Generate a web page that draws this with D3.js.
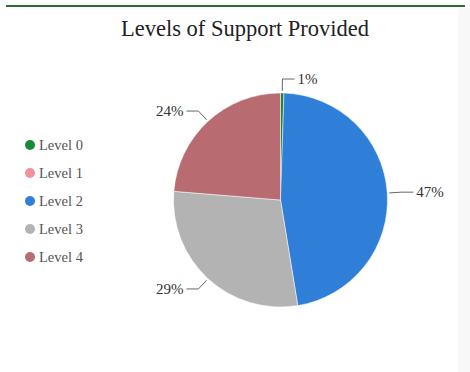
<!DOCTYPE html>
<html>
<head>
<meta charset="utf-8">
<title>Levels of Support Provided</title>
<script src="https://cdn.jsdelivr.net/npm/d3@7"></script>
<style>
  body { margin: 0; background: #fff; }
</style>
</head>
<body>
<svg id="svg"></svg>
<script>
var WIDTH = 470;
var HEIGHT = 372;

// data
var levels = ["Level 0", "Level 1", "Level 2", "Level 3", "Level 4"];
var counts = [1, 0, 91, 56, 46];
var colors = ["#1a8a36", "#f0929e", "#2f7fd8", "#b3b3b3", "#b86b70"];

var data = levels.map(function(l, i){
    return {level: l, value: counts[i], color: colors[i]};
});
var total = d3.sum(counts);

var svg = d3.select("#svg")
            .attr("width", WIDTH)
            .attr("height", HEIGHT);

// faint strip at right edge and green rule at top
svg.append("rect")
   .attr("x", 458).attr("y", 8).attr("width", 12).attr("height", HEIGHT - 8)
   .attr("fill", "#f8f8f8");
svg.append("rect")
   .attr("x", 6).attr("y", 5).attr("width", 459).attr("height", 2)
   .attr("fill", "#2f6b3b");

svg.append("text")
   .attr("x", 245).attr("y", 36)
   .attr("text-anchor", "middle")
   .attr("font-family", "Liberation Serif, serif")
   .attr("font-size", "22.5px")
   .attr("fill", "#222")
   .text("Levels of Support Provided");

var cx = 280.5, cy = 200, r = 107;

var pie = d3.pie()
            .sort(null)
            .value(function(d){ return d.value; });
var arcs = pie(data);
var arc = d3.arc().innerRadius(0).outerRadius(r);

var g = svg.append("g").attr("transform", "translate(" + cx + "," + cy + ")");

g.selectAll("path")
 .data(arcs.filter(function(d){ return d.value > 0; }))
 .enter()
 .append("path")
 .attr("d", arc)
 .attr("fill", function(d){ return d.data.color; })
 .attr("stroke", "#fff")
 .attr("stroke-width", 0.5);

// leader lines and labels
var labelled = arcs.filter(function(d){ return d.value > 0; });
labelled.forEach(function(d){
    var a = (d.startAngle + d.endAngle) / 2;
    var sx = Math.sin(a), sy = -Math.cos(a);
    var p0 = [sx * (r + 2), sy * (r + 2)];
    var p1 = [sx * (r + 14), sy * (r + 14)];
    var dir = sx >= 0 ? 1 : -1;
    var p2 = [p1[0] + dir * 12, p1[1]];
    g.append("polyline")
     .attr("points", [p0, p1, p2].map(function(p){ return p.join(","); }).join(" "))
     .attr("fill", "none")
     .attr("stroke", "#666")
     .attr("stroke-width", 1);
    g.append("text")
     .attr("x", p2[0] + dir * 3)
     .attr("y", p2[1])
     .attr("dy", "0.35em")
     .attr("text-anchor", dir > 0 ? "start" : "end")
     .attr("font-family", "Liberation Serif, serif")
     .attr("font-size", "15px")
     .attr("fill", "#333")
     .text(Math.round(d.value / total * 100) + "%");
});

// legend
var legend = svg.selectAll("g.legend")
                .data(data)
                .enter()
                .append("g")
                .attr("class", "legend")
                .attr("transform", function(d, i){ return "translate(30," + (145 + i * 28) + ")"; });
legend.append("circle")
      .attr("r", 5)
      .attr("fill", function(d){ return d.color; });
legend.append("text")
      .attr("x", 9)
      .attr("dy", "0.35em")
      .attr("font-family", "Liberation Serif, serif")
      .attr("font-size", "14.5px")
      .attr("fill", "#555")
      .text(function(d){ return d.level; });
</script>
</body>
</html>
